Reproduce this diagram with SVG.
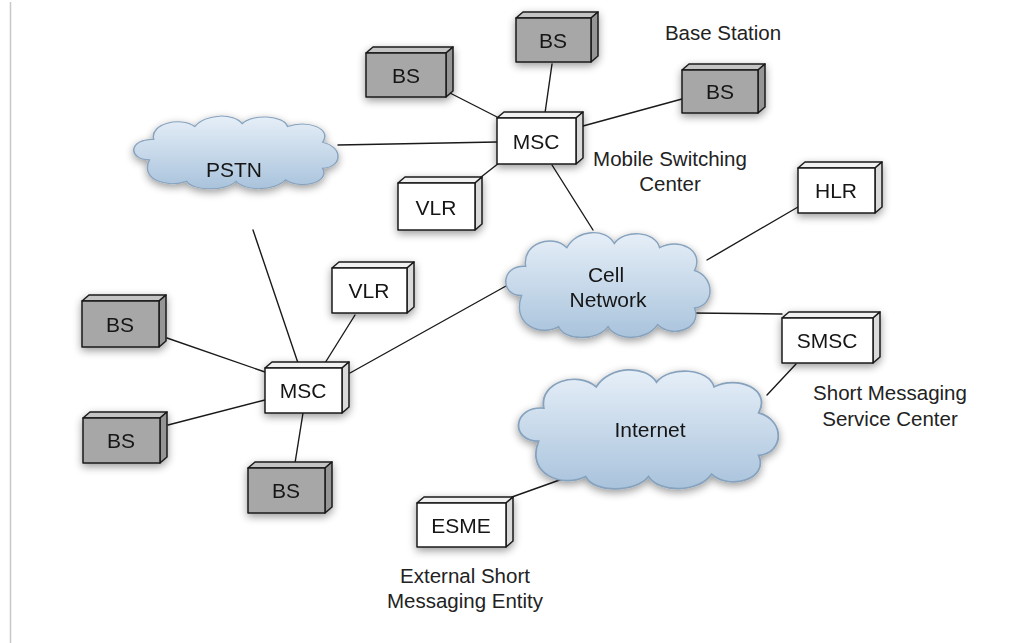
<svg xmlns="http://www.w3.org/2000/svg" xmlns:xlink="http://www.w3.org/1999/xlink" width="1023" height="643" viewBox="0 0 1023 643">
  <style>
    .link { stroke: #1a1a1a; stroke-width: 1.4; fill: none; stroke-linecap: round; }
    .edge { stroke: #1a1a1a; stroke-width: 1.5; stroke-linejoin: round; }
    .gray .front { fill: #a7a7a7; }
    .gray .top { fill: #c4c4c4; }
    .gray .side { fill: #959595; }
    .white .front { fill: #ffffff; }
    .white .top { fill: #f1f1f1; }
    .white .side { fill: #dadada; }
    .cloud { fill: url(#cloudFill); stroke: #87a2bd; stroke-width: 1.4; }
    .lbl { font-family: "Liberation Sans", Arial, Helvetica, sans-serif; font-size: 21px; fill: #151515; text-anchor: middle; }
    .note { font-family: "Liberation Sans", Arial, Helvetica, sans-serif; font-size: 20.5px; fill: #222; text-anchor: middle; }
  </style>
  <defs>
    <linearGradient id="cloudFill" x1="0" y1="0" x2="0" y2="1">
      <stop offset="0" stop-color="#e6eff8"/>
      <stop offset="1" stop-color="#a9c3dc"/>
    </linearGradient>
    <filter id="shadow" x="-25%" y="-30%" width="150%" height="170%">
      <feGaussianBlur in="SourceAlpha" stdDeviation="4"/>
      <feOffset dy="3"/>
      <feComponentTransfer><feFuncA type="linear" slope="0.4"/></feComponentTransfer>
      <feMerge><feMergeNode/><feMergeNode in="SourceGraphic"/></feMerge>
    </filter>
    <!-- cloud outline drawn in a 200 x 100 box -->
    <path id="cloudShape" d="M 18,62 C -4,62 -2,32 22,34 C 18,12 48,2 62,16 C 72,-2 100,-3 108,12 C 118,-2 148,0 152,16 C 170,6 196,18 186,38 C 206,44 206,72 186,74 C 194,94 164,104 150,90 C 140,106 110,106 102,92 C 92,106 60,106 54,92 C 36,102 8,90 18,62 Z"/>
  </defs>

  <rect x="0" y="0" width="1023" height="643" fill="#ffffff"/>
  <line x1="10.5" y1="2" x2="10.5" y2="643" stroke="#c8c8c8" stroke-width="1.5"/>

  <!-- connectors -->
  <g id="connectors">
    <line class="link" x1="448" y1="92" x2="499" y2="118"/>
    <line class="link" x1="552" y1="64" x2="545" y2="113"/>
    <line class="link" x1="583" y1="126" x2="682" y2="99"/>
    <line class="link" x1="338" y1="145" x2="497" y2="142"/>
    <line class="link" x1="499" y1="163" x2="476" y2="181"/>
    <line class="link" x1="552" y1="165" x2="593" y2="230"/>
    <line class="link" x1="707" y1="260" x2="798" y2="207"/>
    <line class="link" x1="692" y1="313" x2="782" y2="314"/>
    <line class="link" x1="350" y1="373" x2="506" y2="286"/>
    <line class="link" x1="796" y1="364" x2="767" y2="395"/>
    <line class="link" x1="582" y1="472" x2="512" y2="497"/>
    <line class="link" x1="253" y1="230" x2="298" y2="363"/>
    <line class="link" x1="325" y1="363" x2="355" y2="315"/>
    <line class="link" x1="167" y1="338" x2="265" y2="372"/>
    <line class="link" x1="168" y1="425" x2="265" y2="400"/>
    <line class="link" x1="303" y1="413" x2="295" y2="463"/>
  </g>

  <!-- clouds -->
  <g id="pstn" filter="url(#shadow)">
    <use xlink:href="#cloudShape" class="cloud" transform="translate(131,115) scale(1.03,0.72)"/>
    <text class="lbl" x="234" y="177">PSTN</text>
  </g>
  <g id="cell-network" filter="url(#shadow)">
    <use xlink:href="#cloudShape" class="cloud" transform="translate(503,231) scale(1.03,1.04)"/>
    <text class="lbl" x="606" y="282">Cell</text>
    <text class="lbl" x="608" y="307">Network</text>
  </g>
  <g id="internet" filter="url(#shadow)">
    <use xlink:href="#cloudShape" class="cloud" transform="translate(515,368) scale(1.31,1.18)"/>
    <text class="lbl" x="650" y="437">Internet</text>
  </g>

  <!-- box nodes: front face, top face, right face -->
  <g id="bs-1" class="gray" filter="url(#shadow)">
    <polygon class="top edge" points="366,53 373,47 453,47 446,53"/>
    <polygon class="side edge" points="446,53 453,47 453,91 446,97"/>
    <rect class="front edge" x="366" y="53" width="80" height="44"/>
    <text class="lbl" x="406" y="83">BS</text>
  </g>
  <g id="bs-2" class="gray" filter="url(#shadow)">
    <polygon class="top edge" points="516,18 523,12 598,12 591,18"/>
    <polygon class="side edge" points="591,18 598,12 598,56 591,62"/>
    <rect class="front edge" x="516" y="18" width="75" height="44"/>
    <text class="lbl" x="553" y="48">BS</text>
  </g>
  <g id="bs-3" class="gray" filter="url(#shadow)">
    <polygon class="top edge" points="682,70 689,64 765,64 758,70"/>
    <polygon class="side edge" points="758,70 765,64 765,107 758,113"/>
    <rect class="front edge" x="682" y="70" width="76" height="43"/>
    <text class="lbl" x="720" y="99">BS</text>
  </g>
  <g id="msc-1" class="white" filter="url(#shadow)">
    <polygon class="top edge" points="497,118 504,112 583,112 576,118"/>
    <polygon class="side edge" points="576,118 583,112 583,158 576,164"/>
    <rect class="front edge" x="497" y="118" width="79" height="46"/>
    <text class="lbl" x="536" y="149">MSC</text>
  </g>
  <g id="vlr-1" class="white" filter="url(#shadow)">
    <polygon class="top edge" points="398,183 405,177 482,177 475,183"/>
    <polygon class="side edge" points="475,183 482,177 482,224 475,230"/>
    <rect class="front edge" x="398" y="183" width="77" height="47"/>
    <text class="lbl" x="436" y="215">VLR</text>
  </g>
  <g id="hlr" class="white" filter="url(#shadow)">
    <polygon class="top edge" points="798,168 805,162 882,162 875,168"/>
    <polygon class="side edge" points="875,168 882,162 882,207 875,213"/>
    <rect class="front edge" x="798" y="168" width="77" height="45"/>
    <text class="lbl" x="836" y="198">HLR</text>
  </g>
  <g id="smsc" class="white" filter="url(#shadow)">
    <polygon class="top edge" points="782,318 789,312 880,312 873,318"/>
    <polygon class="side edge" points="873,318 880,312 880,357 873,363"/>
    <rect class="front edge" x="782" y="318" width="91" height="45"/>
    <text class="lbl" x="827" y="348">SMSC</text>
  </g>
  <g id="vlr-2" class="white" filter="url(#shadow)">
    <polygon class="top edge" points="332,268 339,262 414,262 407,268"/>
    <polygon class="side edge" points="407,268 414,262 414,307 407,313"/>
    <rect class="front edge" x="332" y="268" width="75" height="45"/>
    <text class="lbl" x="369" y="298">VLR</text>
  </g>
  <g id="bs-4" class="gray" filter="url(#shadow)">
    <polygon class="top edge" points="82,301 89,295 166,295 159,301"/>
    <polygon class="side edge" points="159,301 166,295 166,341 159,347"/>
    <rect class="front edge" x="82" y="301" width="77" height="46"/>
    <text class="lbl" x="120" y="332">BS</text>
  </g>
  <g id="msc-2" class="white" filter="url(#shadow)">
    <polygon class="top edge" points="265,368 272,362 349,362 342,368"/>
    <polygon class="side edge" points="342,368 349,362 349,407 342,413"/>
    <rect class="front edge" x="265" y="368" width="77" height="45"/>
    <text class="lbl" x="303" y="398">MSC</text>
  </g>
  <g id="bs-5" class="gray" filter="url(#shadow)">
    <polygon class="top edge" points="83,418 90,412 167,412 160,418"/>
    <polygon class="side edge" points="160,418 167,412 167,457 160,463"/>
    <rect class="front edge" x="83" y="418" width="77" height="45"/>
    <text class="lbl" x="121" y="448">BS</text>
  </g>
  <g id="bs-6" class="gray" filter="url(#shadow)">
    <polygon class="top edge" points="248,468 255,462 332,462 325,468"/>
    <polygon class="side edge" points="325,468 332,462 332,507 325,513"/>
    <rect class="front edge" x="248" y="468" width="77" height="45"/>
    <text class="lbl" x="286" y="498">BS</text>
  </g>
  <g id="esme" class="white" filter="url(#shadow)">
    <polygon class="top edge" points="417,503 424,497 513,497 506,503"/>
    <polygon class="side edge" points="506,503 513,497 513,541 506,547"/>
    <rect class="front edge" x="417" y="503" width="89" height="44"/>
    <text class="lbl" x="461" y="533">ESME</text>
  </g>

  <!-- descriptive labels -->
  <g id="labels">
    <text class="note" x="723" y="40">Base Station</text>
    <text class="note" x="670" y="166">Mobile Switching</text>
    <text class="note" x="670" y="191">Center</text>
    <text class="note" x="890" y="400">Short Messaging</text>
    <text class="note" x="890" y="426">Service Center</text>
    <text class="note" x="465" y="583">External Short</text>
    <text class="note" x="465" y="608">Messaging Entity</text>
  </g>
</svg>
